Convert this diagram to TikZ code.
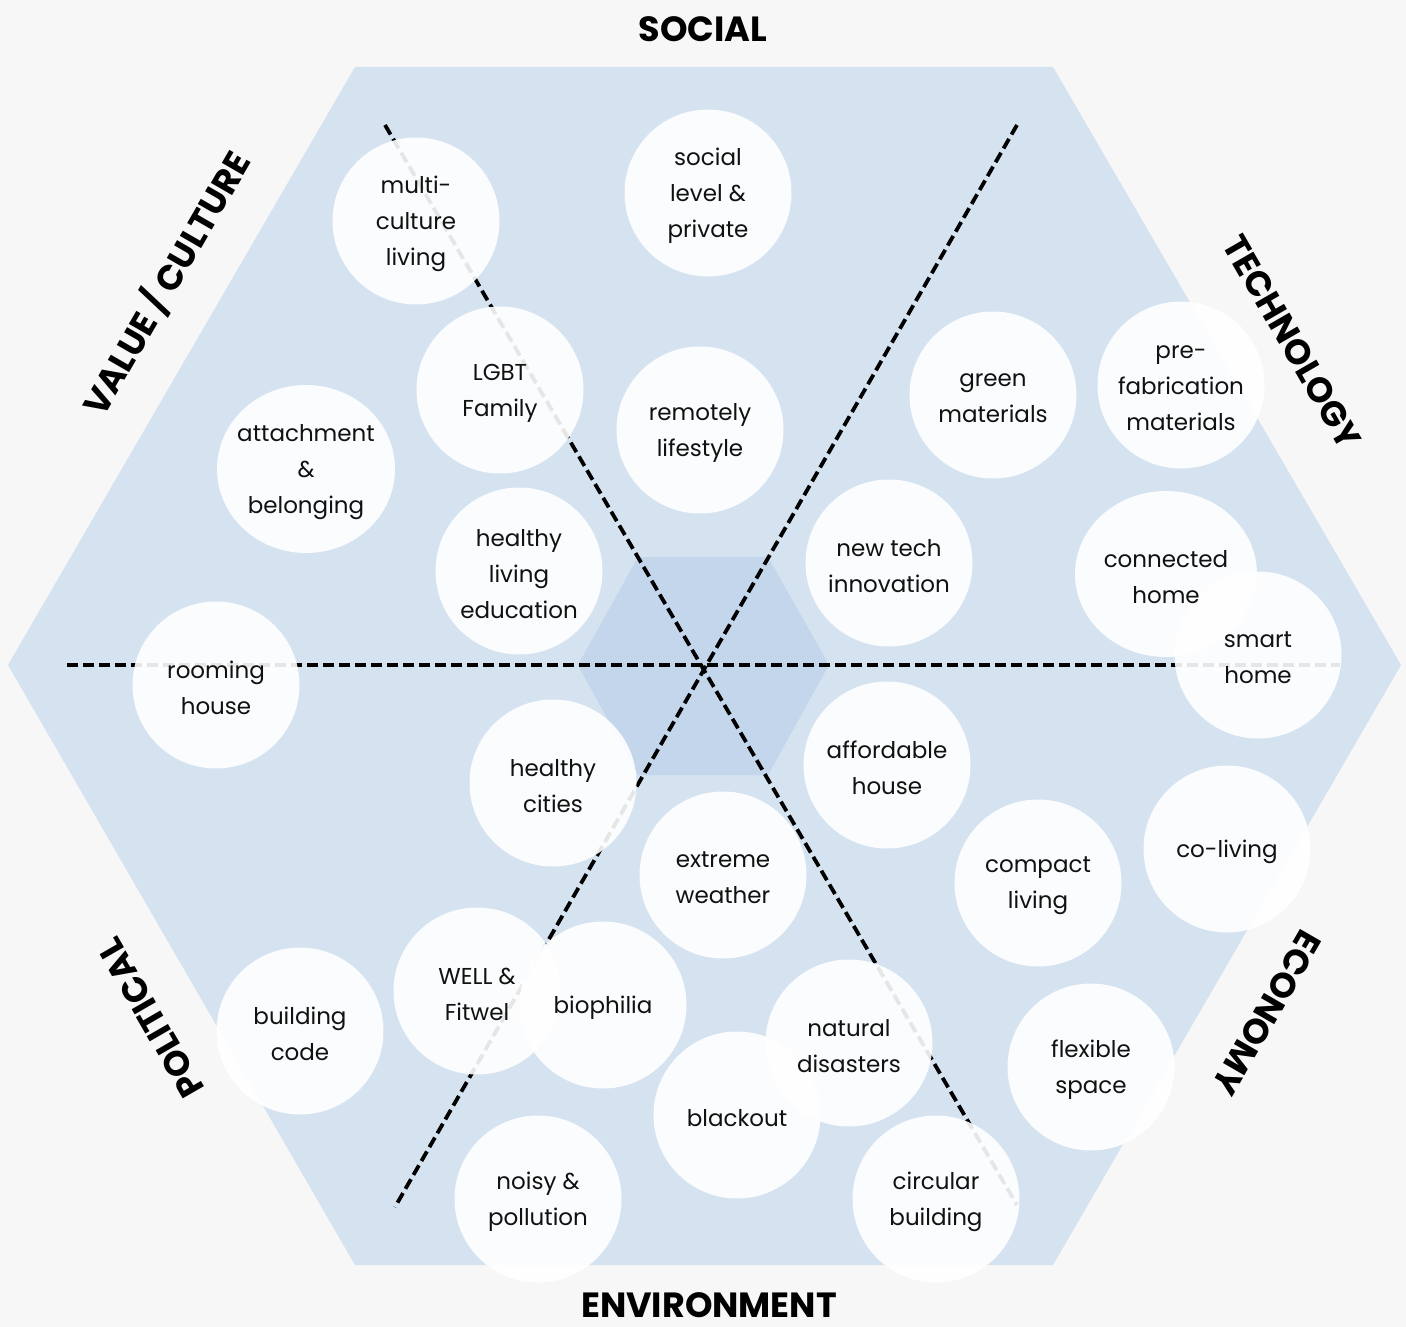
\documentclass[tikz,border=0pt]{standalone}
\usepackage{fontspec}
\setmainfont{Poppins}
\definecolor{pagebg}{HTML}{F7F7F7}
\definecolor{hexblue}{HTML}{D5E2F0}
\definecolor{hexcore}{HTML}{C4D6EC}
\definecolor{ink}{HTML}{111111}
\pgfdeclarelayer{bg}
\pgfdeclarelayer{mid}
\pgfsetlayers{bg,mid,main}
\begin{document}
\begin{tikzpicture}[x=1pt,y=-1pt,
  bubble/.style={circle, minimum size=167pt, inner sep=0pt, align=center, text=ink,
                 yshift=-3pt, font=\fontsize{23}{36}\selectfont},
  bubblefill/.style={fill=white, fill opacity=0.9},
  title/.style={font=\fontsize{35}{40}\selectfont\bfseries, text=black, inner sep=0pt},
  divider/.style={draw=black, line width=3.8pt, dash pattern=on 11pt off 5pt}]
\useasboundingbox (0,0) rectangle (1406,1327);

% text nodes
\node[bubble] (n1)  at (416,221)  {multi-\\culture\\living};
\node[bubble] (n2)  at (708,193)  {social\\level \&\\private};
\node[bubble] (n3)  at (500,390)  {LGBT\\Family};
\node[bubble] (n4)  at (700,430)  {remotely\\lifestyle};
\node[bubble] (n5)  at (993,395)  {green\\materials};
\node[bubble] (n6)  at (1181,385) {pre-\\fabrication\\materials};
\node[bubble] (n7)  at (306,469)  {attachment\\\&\\belonging};
\node[bubble] (n8)  at (519,571)  {healthy\\living\\education};
\node[bubble] (n9)  at (889,563)  {new tech\\innovation};
\node[bubble] (n10) at (1166,574) {connected\\home};
\node[bubble] (n11) at (1258,655) {smart\\home};
\node[bubble] (n12) at (216,685)  {rooming\\house};
\node[bubble] (n13) at (887,765)  {affordable\\house};
\node[bubble] (n14) at (553,783)  {healthy\\cities};
\node[bubble] (n15) at (723,875)  {extreme\\weather};
\node[bubble] (n16) at (1227,849) {co-living};
\node[bubble] (n17) at (1038,883) {compact\\living};
\node[bubble] (n18) at (300,1031) {building\\code};
\node[bubble] (n19) at (477,991)  {WELL \&\\Fitwel};
\node[bubble] (n20) at (603,1005) {biophilia};
\node[bubble] (n21) at (849,1043) {natural\\disasters};
\node[bubble] (n22) at (1091,1067) {flexible\\space};
\node[bubble] (n23) at (737,1115) {blackout};
\node[bubble] (n24) at (538,1199) {noisy \&\\pollution};
\node[bubble] (n25) at (936,1199) {circular\\building};

% titles
\node[title] (tsoc) at (703,29) {SOCIAL};
\node[title] (tenv) at (709,1305) {ENVIRONMENT};
\node[title, rotate=60] (tval) at (166,283) {VALUE / CULTURE};
\node[title, rotate=-60] (ttec) at (1292,342) {TECHNOLOGY};
\node[title, rotate=120] (tpol) at (151,1018) {POLITICAL};
\node[title, rotate=-120] (teco) at (1267,1013) {ECONOMY};

\begin{pgfonlayer}{bg}
  \fill[pagebg] (0,0) rectangle (1406,1327);
  \fill[hexblue] (355,67) -- (1053,67) -- (1401,665) -- (1053,1265) -- (355,1265) -- (8,665) -- cycle;
  \fill[hexcore] (638,557) -- (768,557) -- (829,665) -- (768,775) -- (638,775) -- (578,665) -- cycle;
  \coordinate (hl) at (67,665);
  \coordinate (hr) at (1340,665);
  \coordinate (da1) at (385,125);
  \coordinate (da2) at (1017,1205);
  \coordinate (db1) at (1017,125);
  \coordinate (db2) at (395,1207);
  \draw[divider] (hl) -- (hr);
  \draw[divider] (da1) -- (da2);
  \draw[divider] (db1) -- (db2);
\end{pgfonlayer}

\begin{pgfonlayer}{mid}
  \foreach \n in {n1,n2,n3,n4,n5,n6,n8,n9,n11,n12,n13,n14,n15,n16,n17,n18,n19,n20,n21,n22,n23,n24,n25}
    \fill[bubblefill] ([yshift=3pt]\n.center) circle[radius=83.5];
  \fill[bubblefill] ([yshift=3pt]n7.center) ellipse[x radius=89, y radius=84];
  \fill[bubblefill] ([yshift=3pt]n10.center) ellipse[x radius=91, y radius=83];
\end{pgfonlayer}
\end{tikzpicture}
\end{document}
